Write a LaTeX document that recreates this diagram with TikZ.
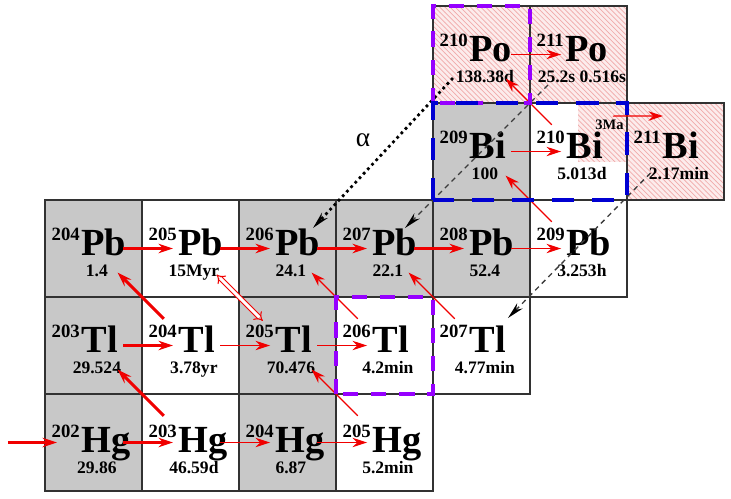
\documentclass[tikz,border=0pt]{standalone}
\usepackage{fontspec}
\setmainfont{Liberation Serif}
\usepackage{tikz}
\usetikzlibrary{positioning,arrows.meta,calc,patterns}

\definecolor{cellgray}{RGB}{200,200,200}
\definecolor{cellline}{RGB}{50,50,50}
\definecolor{pinkbg}{RGB}{252,236,236}
\definecolor{pinkline}{RGB}{240,170,170}
\definecolor{frameviolet}{RGB}{150,0,255}
\definecolor{frameblue}{RGB}{0,0,210}
\definecolor{flowred}{RGB}{240,0,0}
\definecolor{alphagray}{RGB}{60,60,60}

\newcommand{\massno}[1]{{\fontsize{11}{11}\selectfont\raisebox{8.5pt}{#1}}\kern1pt}

\begin{document}
\begin{tikzpicture}[x=2cm,y=2cm,>={Stealth[length=8.5pt,width=5.5pt]},
    cell/.style={draw=cellline,line width=0.9pt,minimum size=2cm,inner sep=0pt,outer sep=0pt},
    stablecell/.style={fill=cellgray},
    decaycell/.style={},
    hatchcell/.style={preaction={fill=pinkbg},pattern=north west lines,pattern color=pinkline},
    nuc/.style={anchor=base west,inner sep=0pt,font=\bfseries\fontsize{22.5}{22.5}\selectfont},
    halflife/.style={anchor=base,inner sep=0pt,font=\bfseries\fontsize{10.3}{10.3}\selectfont},
    mainflow/.style={->,flowred,line width=1.7pt},
    sideflow/.style={->,flowred,line width=0.7pt},
    hgap/.style={shorten <=0.61cm,shorten >=0.36cm},
    dgap/.style={shorten <=0.78cm,shorten >=0.70cm},
    alphaline/.style={-{Stealth[length=10pt,width=4.5pt]},black,line width=1.6pt,dash pattern=on 1.6pt off 2pt},
    alphadash/.style={-{Stealth[length=10pt,width=4.5pt,black]},alphagray,line width=0.8pt,dash pattern=on 3pt off 2.5pt},
    violetframe/.style={frameviolet,line width=2.2pt,dash pattern=on 9pt off 7.5pt},
    blueframe/.style={frameblue,line width=2.8pt,dash pattern=on 13pt off 10.5pt}]

\useasboundingbox (-0.4639,-0.0722) rectangle (7.0722,5.0619);

\fill[pinkbg] (5.495,3.392) rectangle (6,4);
\fill[pattern=north west lines,pattern color=pinkline] (5.495,3.392) rectangle (6,4);

\foreach \el/\A/\c/\r/\hl/\kind in {
    Hg/202/0/0/29.86/stablecell, Hg/203/1/0/46.59d/decaycell, Hg/204/2/0/6.87/stablecell, Hg/205/3/0/5.2min/decaycell,
    Tl/203/0/1/29.524/stablecell, Tl/204/1/1/3.78yr/decaycell, Tl/205/2/1/70.476/stablecell, Tl/206/3/1/4.2min/decaycell,
    Tl/207/4/1/4.77min/decaycell,
    Pb/204/0/2/1.4/stablecell, Pb/205/1/2/15Myr/decaycell, Pb/206/2/2/24.1/stablecell, Pb/207/3/2/22.1/stablecell,
    Pb/208/4/2/52.4/stablecell, Pb/209/5/2/3.253h/decaycell,
    Bi/209/4/3/100/stablecell, Bi/210/5/3/5.013d/decaycell, Bi/211/6/3/2.17min/hatchcell,
    Po/210/4/4/138.38d/hatchcell, Po/211/5/4/25.2s 0.516s/hatchcell}{
  \pgfmathsetmacro\ny{\r==0 ? -0.2 : -0.14}
  \pgfmathsetmacro\hy{\r==0 ? -0.64 : -0.57}
  \node[cell,\kind] (\el\A) at (\c+0.5,\r+0.5) {};
  \node[nuc] (\el\A-n) at ([shift={(-0.87cm,\ny cm)}]\el\A.center) {\massno{\A}\el};
  \node[halflife] (\el\A-h) at ([shift={(0.07cm,\hy cm)}]\el\A.center) {\hl};
}

\node[inner sep=0pt,font=\bfseries\fontsize{8.5}{8.5}\selectfont] (Bi210m) at ([shift={(0.64cm,0.56cm)}]Bi210.center) {3Ma};
\node[inner sep=0pt,font=\fontsize{16}{16}\selectfont] (alpha) at (3.278,3.619) {α};

\coordinate (src) at ([xshift=-1.763cm]Hg202.center);
\draw[mainflow,shorten >=0.753cm] (src) -- (Hg202.center);

\foreach \a/\b in {Hg202/Hg203,Tl203/Tl204,Pb204/Pb205,Pb205/Pb206,Pb206/Pb207,Pb207/Pb208}
  \draw[mainflow,hgap] (\a.center) -- (\b.center);
\foreach \a/\b in {Hg203/Hg204,Hg204/Hg205,Tl204/Tl205,Tl205/Tl206,Pb208/Pb209,Bi209/Bi210,Po210/Po211}
  \draw[sideflow,hgap] (\a.center) -- (\b.center);
\foreach \a/\b in {Hg203/Tl203,Tl204/Pb204}
  \draw[mainflow,dgap] (\a.center) -- (\b.center);
\foreach \a/\b in {Hg205/Tl205,Tl206/Pb206,Tl207/Pb207,Pb209/Bi209,Bi210/Po210}
  \draw[sideflow,dgap] (\a.center) -- (\b.center);

\draw[flowred,line width=0.6pt,double,double distance=1.8pt,{Implies}-{Implies},shorten <=0.76cm,shorten >=0.72cm] (Pb205.center) -- (Tl205.center);
\draw[sideflow] ([shift={(0.07cm,0.17cm)}]Bi210m.center) -- ([shift={(-0.258cm,0.732cm)}]Bi211.center);

\draw[alphaline] ([shift={(-0.588cm,-0.485cm)}]Po210.center) -- ([shift={(0.526cm,0.423cm)}]Pb206.center);
\draw[alphadash] ([shift={(-0.629cm,-0.629cm)}]Po211.center) -- ([shift={(0.423cm,0.423cm)}]Pb207.center);
\draw[alphadash] ([shift={(-0.515cm,-0.443cm)}]Bi211.center) -- ([shift={(0.546cm,0.567cm)}]Tl207.center);

\draw[violetframe] (Po210.south west) rectangle (Po210.north east);
\draw[violetframe] (Tl206.south west) rectangle (Tl206.north east);
\draw[blueframe] (Bi209.south west) rectangle (Bi210.north east);

\end{tikzpicture}
\end{document}
